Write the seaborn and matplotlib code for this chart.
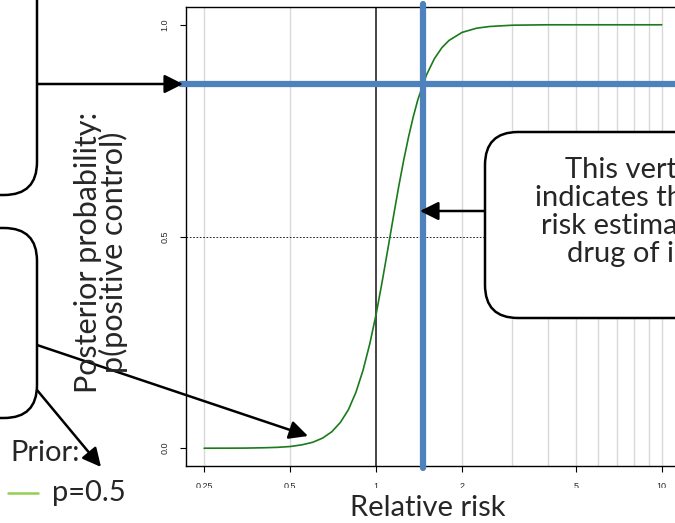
import matplotlib
matplotlib.use("Agg")
import matplotlib.pyplot as plt
import seaborn as sns
from matplotlib.patches import FancyBboxPatch, Rectangle
from matplotlib.transforms import IdentityTransform

# curve: posterior probability vs relative risk
rr = [0.25, 0.3, 0.35, 0.4, 0.45, 0.5, 0.55, 0.6, 0.65, 0.7, 0.75, 0.8, 0.85,
      0.9, 0.95, 1.0, 1.05, 1.1, 1.15, 1.2, 1.25, 1.3, 1.35, 1.4, 1.5, 1.6,
      1.7, 1.8, 2.0, 2.25, 2.5, 3, 4, 5, 6, 8, 10]
posterior = [0.0, 0.0001, 0.0003, 0.001, 0.002, 0.004, 0.008, 0.014, 0.024,
             0.039, 0.061, 0.091, 0.132, 0.184, 0.246, 0.316, 0.393, 0.471,
             0.547, 0.618, 0.681, 0.736, 0.783, 0.823, 0.881, 0.920, 0.946,
             0.963, 0.982, 0.992, 0.996, 0.999, 1.0, 1.0, 1.0, 1.0, 1.0]

x_ticks = [0.25, 0.5, 1, 2, 5, 10]
x_tick_labels = ["0.25", "0.5", "1", "2", "5", "10"]
grid_x = [0.25, 0.5, 2, 3, 4, 5, 6, 7, 8, 9, 10]
y_ticks = [0.0, 0.5, 1.0]
y_tick_labels = ["0.0", "0.5", "1.0"]

estimate = 1.46        # relative risk estimate for the drug of interest
estimate_prob = 0.861  # posterior probability at that estimate

W, H = 675, 523
sns.set_theme(style="white")
plt.rcParams["font.family"] = ["Lato", "DejaVu Sans"]

fig = plt.figure(figsize=(W / 100, H / 100), dpi=100)
ax = fig.add_axes([186 / W, 1 - 466 / H, (680 - 186) / W, (466 - 7) / H])

for v in grid_x:
    ax.axvline(v, color="#d9d9d9", lw=1, zorder=0)
ax.axvline(1, color="#444444", lw=1.4, zorder=1)
ax.axhline(0.5, color="black", lw=0.6, ls=(0, (2, 2)), zorder=1)

sns.lineplot(x=rr, y=posterior, ax=ax, color="#1b7a1b", lw=1.2,
             estimator=None, zorder=2)

ax.set_xscale("log")
ax.set_xlim(0.216, 11.59)
ax.set_ylim(-0.042, 1.042)
ax.set_xticks(x_ticks)
ax.set_xticklabels(x_tick_labels, fontsize=6.5, family="Liberation Sans")
ax.minorticks_off()
ax.set_yticks(y_ticks)
ax.set_yticklabels(y_tick_labels, fontsize=6.5, family="Liberation Sans",
                   rotation=90, va="center")
ax.tick_params(axis="both", direction="out", length=4, width=0.8,
               color="black", bottom=True, left=True)
ax.tick_params(axis="x", pad=7.5)
ax.tick_params(axis="y", pad=8)
for s in ax.spines.values():
    s.set_color("black")
    s.set_linewidth(1)
ax.set_xlabel("")
ax.set_ylabel("")

# thick slide overlay lines
blue = "#4f81bd"
ax.axvline(estimate, ymin=-0.004, ymax=1.007, color=blue, lw=4.5,
           clip_on=False, zorder=5)
ax.axhline(estimate_prob, xmin=-0.01, xmax=1.1, color=blue, lw=4.5,
           clip_on=False, zorder=5)


def px(x, y):
    return (x, H - y)


# white text box under the x label hides the lower half of the tick labels
fig.patches.append(Rectangle(px(140, H), W, H - 488, transform=IdentityTransform(),
                             facecolor="white", edgecolor="none", zorder=1))

# callout boxes
boxes = [(-300, -40, 37, 195), (-300, 228, 37, 418), (485, 132, 1000, 318)]
for x0, y0, x1, y1 in boxes:
    fig.patches.append(FancyBboxPatch(px(x0, y1), x1 - x0, y1 - y0,
                                      boxstyle="round,pad=0,rounding_size=33",
                                      transform=IdentityTransform(),
                                      facecolor="white", edgecolor="black",
                                      lw=1.8, zorder=2))

box_lines = [("This vertical line", 565, 170), ("indicates the relative", 535, 198),
             ("risk estimate for the", 541, 226), ("drug of interest", 567, 254)]
for t, x, y in box_lines:
    fig.text(x / W, 1 - y / H, t, fontsize=21, ha="left", va="center", zorder=4)

arrows = [((37, 84), (183, 84)), ((37, 345), (308, 436)),
          ((37, 390), (101, 467)), ((485, 211), (420, 211))]
for (x0, y0), (x1, y1) in arrows:
    ax.annotate("", xy=px(x1, y1), xytext=px(x0, y0), xycoords="figure pixels",
                textcoords="figure pixels",
                arrowprops=dict(arrowstyle="-|>", mutation_scale=28, lw=1.8,
                                color="black", shrinkA=0, shrinkB=0),
                annotation_clip=False, zorder=6)

fig.text(101 / W, 1 - 252 / H, "Posterior probability:\np(positive control)",
         rotation=90, fontsize=22, ha="center", va="center", linespacing=0.9,
         zorder=7)
fig.text(428 / W, 1 - 508 / H, "Relative risk", fontsize=21, ha="center",
         va="center", zorder=7)

fig.text(10 / W, 1 - 453 / H, "Prior:", fontsize=21, ha="left", va="center")
fig.lines.append(plt.Line2D([8 / W, 38 / W], [1 - 493 / H, 1 - 493 / H],
                            color="#92d050", lw=1.8, transform=fig.transFigure))
fig.text(52 / W, 1 - 493 / H, "p=0.5", fontsize=21, ha="left", va="center")

fig.savefig("out.png", dpi=100)
